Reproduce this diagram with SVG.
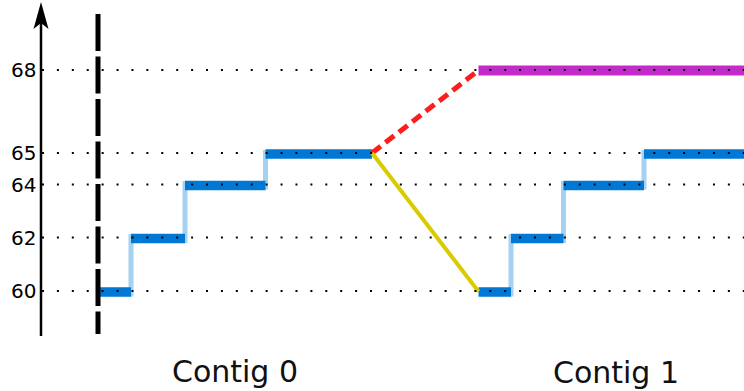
<svg xmlns="http://www.w3.org/2000/svg" width="744" height="391" viewBox="0 0 744 391">
<style>
.lbl{font-family:"DejaVu Sans",sans-serif;font-size:20px;fill:#000;text-anchor:end}
.title{font-family:"DejaVu Sans",sans-serif;font-size:30px;fill:#111;text-anchor:middle}
.dots{stroke:#000;stroke-width:2;stroke-dasharray:2 12.91;fill:none}
.bar{stroke:#0078d4;stroke-width:9.5;fill:none}
.rise{stroke:#a6d2f2;stroke-width:5;fill:none}
</style>
<rect width="744" height="391" fill="#fff"/>
<g id="contig0">
<path class="rise" d="M131 234V296.5M185 181V243M265.5 150V189.5"/>
<path class="bar" d="M98 292H131M131 238.5H185M185 185.5H265.5M265.5 154H372"/>
</g>
<g id="contig1">
<path class="rise" d="M511 234V296.5M563.5 181V243M644 150V189.5"/>
<path class="bar" d="M478.5 292H511M511 238.5H563.5M563.5 185.5H644M644 154H744"/>
<path d="M478.5 70.5H744" stroke="#c22bc9" stroke-width="10" fill="none"/>
</g>
<g id="connectors">
<line x1="372" y1="153" x2="479" y2="70" stroke="#ff1c1c" stroke-width="5" stroke-dasharray="11 6"/>
<line x1="372" y1="153" x2="478.5" y2="291.5" stroke="#dacb00" stroke-width="4"/>
</g>
<g id="gridlines">
<path class="dots" d="M42 70H744M42 153H744M42 184.5H744M42 237.5H744M42 291H744"/>
</g>
<g id="axis">
<line x1="41" y1="22" x2="41" y2="336" stroke="#000" stroke-width="2.5"/>
<path d="M41 2L48.5 29L41 23L33.5 29Z" fill="#000"/>
<line x1="98" y1="14" x2="98" y2="334" stroke="#000" stroke-width="5" stroke-dasharray="37 5.5"/>
</g>
<g id="labels">
<text class="lbl" x="36.5" y="77.3">68</text>
<text class="lbl" x="36.5" y="160">65</text>
<text class="lbl" x="36.5" y="191.5">64</text>
<text class="lbl" x="36.5" y="244.5">62</text>
<text class="lbl" x="36.5" y="298">60</text>
<text class="title" x="235" y="382">Contig 0</text>
<text class="title" x="616" y="383">Contig 1</text>
</g>
</svg>
